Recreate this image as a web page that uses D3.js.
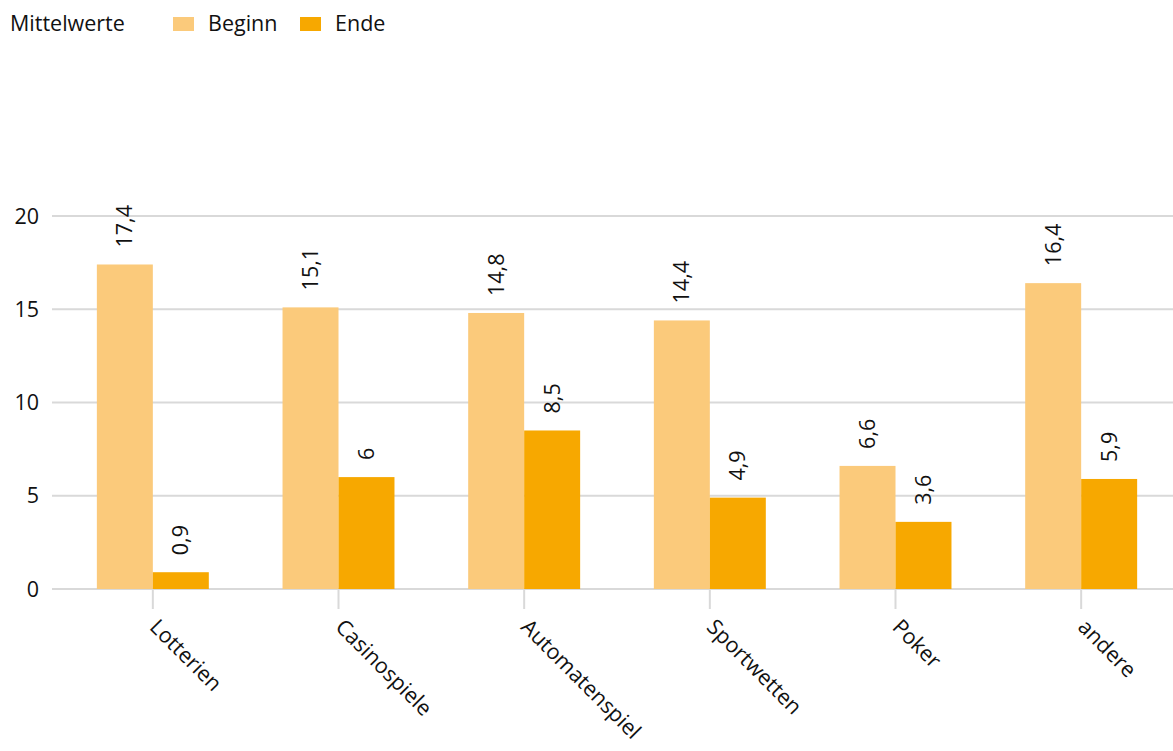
<!DOCTYPE html>
<html><head><meta charset="utf-8">
<script src="https://cdn.jsdelivr.net/npm/d3@7"></script>
<style>
html,body{margin:0;padding:0;background:#fff;}
svg{display:block;font-family:"Open Sans",Lato,sans-serif;}
</style></head>
<body>
<svg id="chart" width="1173" height="751"></svg>
<script>
const categories = ["Lotterien","Casinospiele","Automatenspiel","Sportwetten","Poker","andere"];
const beginn = [17.4, 15.1, 14.8, 14.4, 6.6, 16.4];
const ende = [0.9, 6, 8.5, 4.9, 3.6, 5.9];
const seriesNames = ["Beginn","Ende"];
const seriesColors = ["#FBCA7B","#F7A800"];
const yTicks = [0,5,10,15,20];

const svg = d3.select("#chart");
const W = 1173;
const FS = 21.5;
const y = d3.scaleLinear().domain([0,20]).range([589,216]);
const x = d3.scaleBand().domain(categories).range([60,1174]).paddingInner(0.397).paddingOuter(0.1985);
const xs = d3.scaleBand().domain(seriesNames).range([0, x.bandwidth()]);
const fmt = v => String(v).replace(".", ",");

// gridlines
svg.append("g").selectAll("line").data(yTicks).join("line")
  .attr("x1",52).attr("x2",W).attr("y1",d=>y(d)).attr("y2",d=>y(d))
  .attr("stroke","#d9d9d9").attr("stroke-width",2);

// y labels
svg.append("g").selectAll("text").data(yTicks).join("text")
  .attr("x",39).attr("y",d=>y(d)).attr("dy","0.35em")
  .attr("text-anchor","end").attr("font-size",FS).attr("fill","#111")
  .text(d=>d);

// bars
const data = categories.map((c,i)=>({cat:c, vals:[{s:"Beginn",v:beginn[i]},{s:"Ende",v:ende[i]}]}));
const g = svg.append("g").selectAll("g").data(data).join("g")
  .attr("transform",d=>`translate(${x(d.cat)},0)`);
g.selectAll("rect").data(d=>d.vals).join("rect")
  .attr("x",d=>xs(d.s)).attr("width",xs.bandwidth())
  .attr("y",d=>y(d.v)).attr("height",d=>y(0)-y(d.v))
  .attr("fill",(d,i)=>seriesColors[i]);
g.selectAll("text").data(d=>d.vals).join("text")
  .attr("transform",d=>`translate(${xs(d.s)+xs.bandwidth()/2},${y(d.v)-17}) rotate(-90)`)
  .attr("dy","0.35em").attr("font-size",FS).attr("fill","#111")
  .text(d=>fmt(d.v));

// x ticks
svg.append("g").selectAll("line").data(categories).join("line")
  .attr("x1",c=>x(c)+x.bandwidth()/2).attr("x2",c=>x(c)+x.bandwidth()/2)
  .attr("y1",590).attr("y2",609).attr("stroke","#d9d9d9").attr("stroke-width",2);
svg.append("g").selectAll("text").data(categories).join("text")
  .attr("transform",c=>`translate(${x(c)+x.bandwidth()/2+1},623) rotate(45)`)
  .attr("font-size",FS).attr("fill","#111").attr("dy","0.35em")
  .text(c=>c);

// legend
svg.append("text").attr("x",10).attr("y",23).attr("dy","0.35em").attr("font-size",FS).attr("fill","#111").text("Mittelwerte");
const lx = [173, 300];
seriesNames.forEach((s,i)=>{
  svg.append("rect").attr("x",lx[i]).attr("y",17).attr("width",21).attr("height",14).attr("fill",seriesColors[i]);
  svg.append("text").attr("x",lx[i]+35).attr("y",23).attr("dy","0.35em").attr("font-size",FS).attr("fill","#111").text(s);
});
</script>
</body></html>
